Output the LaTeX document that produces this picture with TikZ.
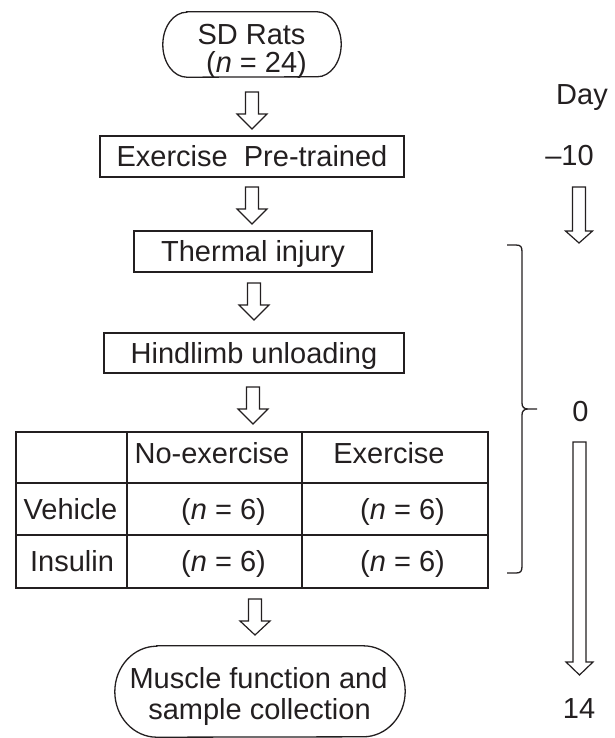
\documentclass[tikz,border=0pt]{standalone}
\usepackage{fontspec}
\setmainfont{Liberation Sans}
\usetikzlibrary{calc}
\definecolor{ink}{HTML}{231F20}
\tikzset{
  lbl/.style={inner sep=0pt, text height=20.8pt, text depth=0pt, text=ink, font=\fontsize{29}{34}\selectfont},
  box/.style={lbl, draw=ink, line width=1.3pt},
  line/.style={draw=ink, line width=1.3pt},
  blk/.style={draw=ink, line width=1.2pt, fill=white, line join=miter},
}
\newcommand\blockarr[5]{%
  \draw[blk] let \p1=(#1), \p2=(#2) in
    (\x1-#3,\y1) -- (\x1+#3,\y1) -- (\x1+#3,\y2+#5) -- (\x1+#4,\y2+#5) -- (\x1,\y2)
    -- (\x1-#4,\y2+#5) -- (\x1-#3,\y2+#5) -- cycle;}
\begin{document}
\begin{tikzpicture}[x=1pt,y=1pt]
\useasboundingbox (0,0) rectangle (614,-738);

% SD rats
\node[minimum width=178pt, minimum height=65pt, inner sep=0pt] (rats) at (252,-44.5) {};
\draw[line] ($(rats.north west)+(24,0)$) -- ($(rats.north east)+(-24,0)$)
  arc[start angle=90,end angle=-90,x radius=24pt,y radius=32.5pt]
  -- ($(rats.south west)+(24,0)$)
  arc[start angle=270,end angle=90,x radius=24pt,y radius=32.5pt] -- cycle;
\node[lbl] (rats1) at (251.5,-34) {SD Rats};
\node[lbl] (rats2) at (256.5,-62) {(\textit{n} = 24)};

% arrow 1
\coordinate (a1s) at (252,-92); \coordinate (a1e) at (252,-129);
\blockarr{a1s}{a1e}{6.5pt}{15pt}{15pt}

\node[box, minimum width=304pt, minimum height=41pt] (pre) at (252,-156.5) {Exercise\ \ Pre-trained};

\coordinate (a2s) at (252,-187); \coordinate (a2e) at (252,-224);
\blockarr{a2s}{a2e}{6.5pt}{15pt}{15pt}

\node[box, minimum width=238pt, minimum height=41pt] (burn) at (253,-251.5) {Thermal injury};

\coordinate (a3s) at (254,-283); \coordinate (a3e) at (254,-320);
\blockarr{a3s}{a3e}{6.5pt}{15pt}{15pt}

\node[box, minimum width=300pt, minimum height=40pt] (hu) at (254,-353) {Hindlimb unloading};

\coordinate (a4s) at (253,-387); \coordinate (a4e) at (253,-424);
\blockarr{a4s}{a4e}{6.5pt}{15pt}{15pt}

% table
\node[draw=ink, line width=1.3pt, minimum width=472pt, minimum height=156pt, inner sep=0pt] (tab) at (252,-510) {};
\draw[line] (127,-432) -- (127,-588);
\draw[line] (302,-432) -- (302,-588);
\draw[line] (16,-483) -- (488,-483);
\draw[line] (16,-535) -- (488,-535);
\node[lbl] (h1) at (212,-453) {No-exercise};
\node[lbl] (h2) at (389,-453) {Exercise};
\node[lbl] (r1) at (70.5,-509) {Vehicle};
\node[lbl] (r2) at (72,-561.5) {Insulin};
\node[lbl] (c11) at (223.5,-509) {(\textit{n} = 6)};
\node[lbl] (c12) at (402.5,-509) {(\textit{n} = 6)};
\node[lbl] (c21) at (223.5,-561.5) {(\textit{n} = 6)};
\node[lbl] (c22) at (402.5,-561.5) {(\textit{n} = 6)};

\coordinate (a5s) at (255,-599); \coordinate (a5e) at (255,-635);
\blockarr{a5s}{a5e}{6.5pt}{15pt}{14pt}

% final box
\node[minimum width=290pt, minimum height=91pt, inner sep=0pt] (coll) at (260,-691.5) {};
\draw[line] ($(coll.north west)+(42,0)$) -- ($(coll.north east)+(-42,0)$)
  arc[start angle=90,end angle=-90,x radius=42pt,y radius=45.5pt]
  -- ($(coll.south west)+(42,0)$)
  arc[start angle=270,end angle=90,x radius=42pt,y radius=45.5pt] -- cycle;
\node[lbl] (coll1) at (258.5,-678) {Muscle function and};
\node[lbl] (coll2) at (259.5,-709) {sample collection};

% brace
\draw[line] (507,-245) -- (516,-245) .. controls (521,-245) and (522,-247) .. (522,-252)
  -- (522,-403) .. controls (522,-407) and (524,-409) .. (528,-409) -- (537,-409)
  -- (528,-409) .. controls (524,-409) and (522,-411) .. (522,-415)
  -- (522,-566) .. controls (522,-571) and (521,-573) .. (516,-573) -- (507,-573);

% day timeline
\node[lbl] (day) at (582,-94.5) {Day};
\node[lbl] (dm10) at (569.5,-155.5) {\textendash10};
\coordinate (d1s) at (579,-187); \coordinate (d1e) at (579,-243);
\blockarr{d1s}{d1e}{6.5pt}{13.5pt}{12pt}
\node[lbl] (d0) at (580.5,-411.5) {0};
\coordinate (d2s) at (579.5,-442); \coordinate (d2e) at (579.5,-675);
\blockarr{d2s}{d2e}{6.5pt}{13.5pt}{13pt}
\node[lbl] (d14) at (579,-708.5) {14};
\end{tikzpicture}
\end{document}
